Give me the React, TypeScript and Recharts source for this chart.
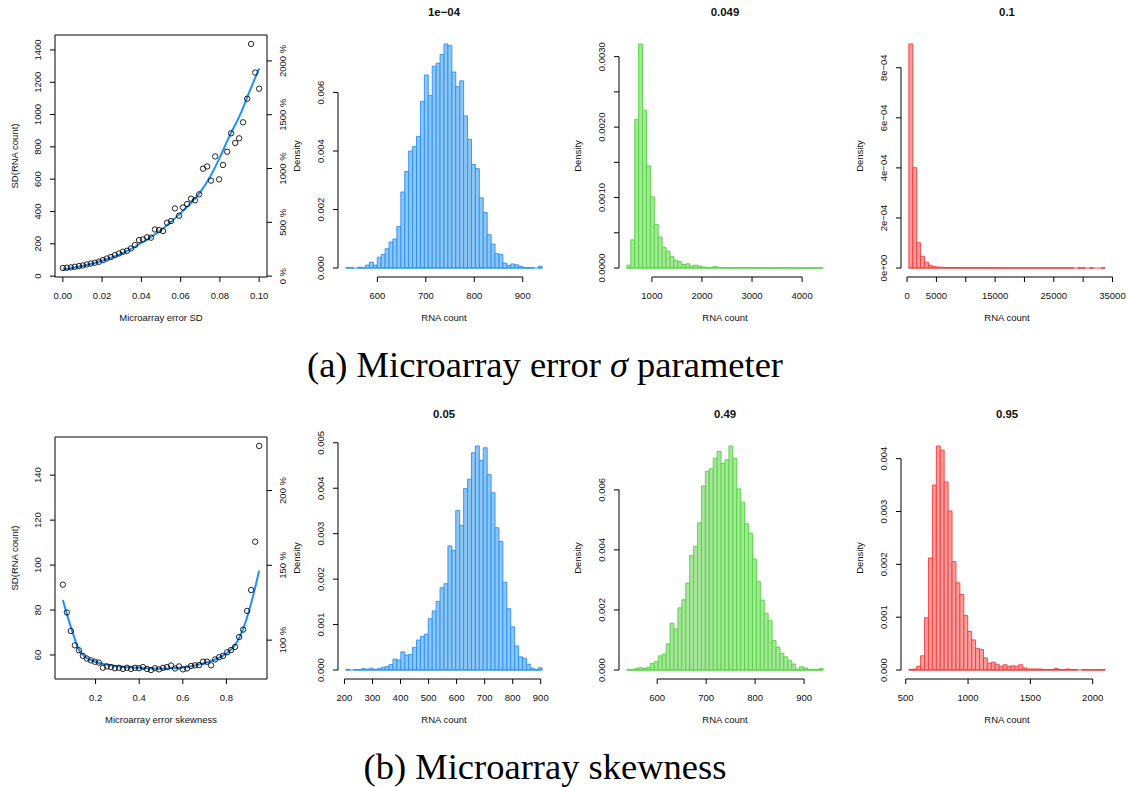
import React from 'react';
import { ComposedChart, XAxis, YAxis, Line, Scatter, ReferenceArea, ReferenceLine } from 'recharts';

const FONT = '"Liberation Sans", Arial, Helvetica, sans-serif';
const SERIF = '"Liberation Serif", "DejaVu Serif", serif';
const INK = '#111';
const FS = 9.5;

// ---------- (a) microarray error SD ----------
const errSd = [0, 0.002, 0.0041, 0.0061, 0.0082, 0.0102, 0.0122, 0.0143, 0.0163, 0.0184,
  0.0204, 0.0224, 0.0245, 0.0265, 0.0286, 0.0306, 0.0327, 0.0347, 0.0367, 0.0388,
  0.0408, 0.0429, 0.0449, 0.0469, 0.049, 0.051, 0.0531, 0.0551, 0.0571, 0.0592,
  0.0612, 0.0633, 0.0653, 0.0673, 0.0694, 0.0714, 0.0735, 0.0755, 0.0776, 0.0796,
  0.0816, 0.0837, 0.0857, 0.0878, 0.0898, 0.0918, 0.0939, 0.0959, 0.098, 0.1];
const errSdSpread = [50, 52, 54, 58, 62, 66, 72, 78, 83, 89,
  99, 109, 118, 130, 140, 151, 157, 171, 192, 223,
  227, 240, 238, 289, 285, 279, 330, 341, 419, 374,
  425, 446, 479, 469, 506, 665, 679, 591, 741, 599,
  688, 770, 884, 824, 853, 952, 1098, 1437, 1260, 1160];
const errSdFitX = [0, 0.01, 0.02, 0.03, 0.04, 0.05, 0.055, 0.06, 0.065, 0.07, 0.075, 0.08, 0.085, 0.09, 0.095, 0.1];
const errSdFitY = [41, 62, 95, 140, 205, 285, 335, 390, 450, 520, 615, 735, 870, 990, 1140, 1286];

// ---------- (b) microarray skewness ----------
const skew = [0.05, 0.0684, 0.0867, 0.1051, 0.1235, 0.1418, 0.1602, 0.1786, 0.1969, 0.2153,
  0.2337, 0.252, 0.2704, 0.2888, 0.3071, 0.3255, 0.3439, 0.3622, 0.3806, 0.399,
  0.4173, 0.4357, 0.4541, 0.4724, 0.4908, 0.5092, 0.5276, 0.5459, 0.5643, 0.5827,
  0.601, 0.6194, 0.6378, 0.6561, 0.6745, 0.6929, 0.7112, 0.7296, 0.748, 0.7663,
  0.7847, 0.8031, 0.8214, 0.8398, 0.8582, 0.8765, 0.8949, 0.9133, 0.9316, 0.95];
const skewSpread = [91.3, 78.9, 70.7, 64.3, 62.1, 59.6, 58.4, 57.6, 57.0, 56.6,
  54.3, 54.9, 54.6, 54.1, 54.3, 53.8, 54.3, 53.8, 54.3, 54.1,
  54.6, 53.8, 53.3, 54.1, 53.6, 54.3, 54.6, 55.3, 54.0, 54.9,
  53.6, 54.0, 55.1, 55.4, 55.5, 57.0, 57.0, 55.4, 58.0, 59.0,
  59.6, 61.2, 62.2, 63.6, 68.0, 71.3, 79.6, 88.9, 110.4, 153];
const skewFitX = [0.05, 0.08, 0.1, 0.12, 0.15, 0.2, 0.3, 0.4, 0.5, 0.6, 0.7, 0.75, 0.8, 0.84, 0.88, 0.92, 0.95];
const skewFitY = [84.4, 74.5, 68.5, 63, 59.3, 57, 55, 54.3, 53.9, 54.4, 56.5, 58, 60.7, 64.5, 72.5, 85.5, 97.5];

// SD at which the right-hand axis reads 100 %
const pctBase = 66.6;

// ---------- histograms ----------
const h1Range = [535, 940];
const h1Density = [0.00002, 0.00001, 0, 0.00003, 0.00001, 0.0001, 0.0002, 0.0001, 0.00037, 0.00046,
  0.00066, 0.00089, 0.00099, 0.00142, 0.0026, 0.0033, 0.004, 0.00415, 0.0045, 0.0057,
  0.0066, 0.0059, 0.0069, 0.007, 0.0073, 0.00766, 0.0076, 0.0067, 0.0062, 0.0064,
  0.0052, 0.0044, 0.00354, 0.0034, 0.0024, 0.0019, 0.00114, 0.00082, 0.00049, 0.00047,
  0.00017, 0.00009, 0.00014, 0.00011, 0.00006, 0.00002, 0.00001, 0.00001, 0, 0.00006];

const h2Range = [500, 4420];
const h2Density = [0.00004, 0.0004, 0.00211, 0.00318, 0.00224, 0.00145, 0.00101, 0.00062, 0.00044, 0.00029,
  0.00024, 0.00016, 0.00011, 0.00009, 0.00005, 0.00006, 0.00003, 0.00004, 0.00003, 0.000015,
  0.00001, 0.00001, 0.00002, 0.00001, 0.000008, 0.000005, 0.000005, 0.000003, 0.000005, 0.000003,
  0.000003, 0.000005, 0.000002, 0.000003, 0.000002, 0.000003, 0.000002, 0.000002, 0.000003, 0.000002,
  0.000004, 0.000002, 0.000001, 0.000002, 0.000002, 0.000001, 0.000002, 0.000001, 0.000002, 0.000002];

const h3Range = [300, 33750];
const h3Density = [0.000895, 0.000401, 0.000101, 0.000047, 0.000023, 0.000011, 0.000006, 0.000004, 0.000003, 0.000002,
  0.000002, 0.0000015, 0.000002, 0.000001, 0.000001, 0.0000015, 0.000001, 0.0000008, 0.000001, 0.0000006,
  0.0000008, 0.0000005, 0.0000006, 0.0000004, 0.0000005, 0.0000003, 0.0000004, 0.0000003, 0.0000002, 0.0000003,
  0.0000002, 0.0000003, 0.0000002, 0.0000001, 0.0000002, 0.0000001, 0.0000002, 0.0000001, 0.0000001, 0.0000002,
  0.0000001, 0.0000001, 0, 0.0000001, 0.0000001, 0, 0.0000001, 0, 0, 0.0000001];

const b2Range = [205, 905];
const b2Density = [0.000015, 0, 0.00001, 0.00001, 0.00003, 0.00002, 0.00004, 0.00001, 0.00003, 0.00006,
  0.00008, 0.00012, 0.00024, 0.00022, 0.0004, 0.00033, 0.00034, 0.0005, 0.00066, 0.00074,
  0.00079, 0.00113, 0.0013, 0.00151, 0.00181, 0.0019, 0.00273, 0.00263, 0.00351, 0.00318,
  0.00399, 0.0042, 0.00478, 0.00493, 0.00461, 0.00489, 0.0043, 0.0039, 0.00313, 0.00283,
  0.00193, 0.00135, 0.00095, 0.00053, 0.00029, 0.00026, 0.00013, 0.00004, 0.00001, 0.00005];

const b3Range = [538, 939];
const b3Density = [0.00002, 0.00001, 0.00005, 0.00008, 0.00005, 0.00009, 0.00022, 0.00028, 0.00047, 0.00053,
  0.00087, 0.00156, 0.00137, 0.00207, 0.00234, 0.0029, 0.00381, 0.00411, 0.0049, 0.00613,
  0.00662, 0.0067, 0.00705, 0.00728, 0.00688, 0.007, 0.00746, 0.00705, 0.00603, 0.00559,
  0.00487, 0.00456, 0.0037, 0.00294, 0.00233, 0.00189, 0.00164, 0.00098, 0.00076, 0.00056,
  0.00044, 0.00031, 0.0002, 0.00003, 0.00011, 0.00007, 0.00002, 0.00003, 0.00001, 0.00005];

const b4Range = [525, 2100];
const b4Density = [0.00001, 0.00002, 0.00007, 0.00027, 0.00099, 0.00212, 0.0035, 0.00424, 0.00416, 0.00356,
  0.00301, 0.00205, 0.00165, 0.00143, 0.00103, 0.00073, 0.00057, 0.00041, 0.00039, 0.00023,
  0.00013, 0.00015, 0.00011, 0.00007, 0.0001, 0.00007, 0.00008, 0.00007, 0.0001, 0.00004,
  0.00002, 0.00002, 0.00002, 0.00002, 0.00001, 0.00001, 0.00001, 0.00003, 0.00001, 0.00001,
  0.00002, 0.00001, 0.00001, 0, 0.00001, 0.00001, 0.00001, 0.000005, 0.00001, 0.00001];

// ---------- tick values & labels ----------
const errSdTicks = [0, 0.02, 0.04, 0.06, 0.08, 0.1];
const errSdLabels = ['0.00', '0.02', '0.04', '0.06', '0.08', '0.10'];
const sdTicksA = [0, 200, 400, 600, 800, 1000, 1200, 1400];
const sdLabelsA = sdTicksA.map(String);
const pctTicksA = [0, 500, 1000, 1500, 2000];
const pctLabelsA = ['0 %', '500 %', '1000 %', '1500 %', '2000 %'];

const skewTicks = [0.2, 0.4, 0.6, 0.8];
const skewLabels = ['0.2', '0.4', '0.6', '0.8'];
const sdTicksB = [60, 80, 100, 120, 140];
const sdLabelsB = sdTicksB.map(String);
const pctTicksB = [100, 150, 200];
const pctLabelsB = ['100 %', '150 %', '200 %'];

const h1XTicks = [600, 700, 800, 900];
const h1YTicks = [0, 0.002, 0.004, 0.006];
const h1YLabels = ['0.000', '0.002', '0.004', '0.006'];
const h2XTicks = [1000, 2000, 3000, 4000];
const h2YTicks = [0, 0.0005, 0.001, 0.0015, 0.002, 0.0025, 0.003];
const h2YLabels = ['0.0000', '', '0.0010', '', '0.0020', '', '0.0030'];
const h3XTicks = [0, 5000, 10000, 15000, 20000, 25000, 30000, 35000];
const h3XLabels = ['0', '5000', '', '15000', '', '25000', '', '35000'];
const h3YTicks = [0, 0.0002, 0.0004, 0.0006, 0.0008];
const h3YLabels = ['0e+00', '2e\u221204', '4e\u221204', '6e\u221204', '8e\u221204'];
const b2XTicks = [200, 300, 400, 500, 600, 700, 800, 900];
const b2YTicks = [0, 0.001, 0.002, 0.003, 0.004, 0.005];
const b2YLabels = ['0.000', '0.001', '0.002', '0.003', '0.004', '0.005'];
const b3XTicks = [600, 700, 800, 900];
const b3YTicks = [0, 0.002, 0.004, 0.006];
const b3YLabels = ['0.000', '0.002', '0.004', '0.006'];
const b4XTicks = [500, 1000, 1500, 2000];
const b4YTicks = [0, 0.001, 0.002, 0.003, 0.004];
const b4YLabels = ['0.000', '0.001', '0.002', '0.003', '0.004'];

const BLUE = { fill: '#8cc6f5', stroke: '#2b8ef0' };
const GREEN = { fill: '#a6e69a', stroke: '#52d43f' };
const RED = { fill: '#f89c9c', stroke: '#f03c3c' };

// plot frame inside every chart
const PL = 50, PT = 35, PB = 50, PW = 212, PH = 242;

const labelFor = (ticks: number[], labels: string[], v: number) => {
  const i = ticks.findIndex((t) => Math.abs(t - v) < 1e-9);
  return i >= 0 ? labels[i] : '';
};

const xTick = (ticks: number[], labels: string[]) => (props: any) => (
  <text x={props.x} y={props.y} dy="0.71em" textAnchor="middle" fontSize={FS} fontFamily={FONT} fill={INK}>
    {labelFor(ticks, labels, props.payload.value)}
  </text>
);

const yTick = (ticks: number[], labels: string[]) => (props: any) => (
  <text x={props.x} y={props.y} dy="0.35em" textAnchor="middle" fontSize={FS} fontFamily={FONT} fill={INK}
    transform={`rotate(-90 ${props.x} ${props.y})`}>
    {labelFor(ticks, labels, props.payload.value)}
  </text>
);

const Titles = ({ w, h, title, xTitle, yTitle, yOff }: any) => (
  <svg width={w} height={h} style={{ position: 'absolute', left: 0, top: 0, pointerEvents: 'none' }}>
    {title && (
      <text x={PL + PW / 2} y={12.5} dy="0.35em" textAnchor="middle" fontSize={11.4} fontWeight="bold" fontFamily={FONT} fill={INK}>
        {title}
      </text>
    )}
    <text x={PL + PW / 2} y={PT + PH + 41} dy="0.35em" textAnchor="middle" fontSize={FS} fontFamily={FONT} fill={INK}>
      {xTitle}
    </text>
    <text x={PL - yOff} y={PT + PH / 2} dy="0.35em" textAnchor="middle" fontSize={FS} fontFamily={FONT} fill={INK}
      transform={`rotate(-90 ${PL - yOff} ${PT + PH / 2})`}>
      {yTitle}
    </text>
  </svg>
);

type HistProps = {
  left: number; top: number; title: string;
  range: number[]; dens: number[];
  xTicks: number[]; xLabels: string[];
  yTicks: number[]; yLabels: string[];
  color: { fill: string; stroke: string };
};

function Hist(p: HistProps) {
  const n = p.dens.length;
  const span = p.range[1] - p.range[0];
  const step = span / n;
  const bins = p.dens.map((d, i) => ({
    x0: p.range[0] + i * step,
    x1: p.range[0] + (i + 1) * step,
    mid: p.range[0] + (i + 0.5) * step,
    d,
  }));
  const xDom: [number, number] = [p.range[0] - 0.04 * span, p.range[1] + 0.04 * span];
  const maxD = Math.max(...p.dens);
  const yDom: [number, number] = [-0.04 * maxD, 1.04 * maxD];
  const RM = 15;
  const W = PL + PW + RM, H = PT + PH + PB;
  const lastX = p.xTicks[p.xTicks.length - 1];
  const lastY = p.yTicks[p.yTicks.length - 1];
  return (
    <div style={{ position: 'absolute', left: p.left - PL, top: p.top - PT, width: W, height: H }}>
      <ComposedChart width={W} height={H} data={bins} margin={{ top: PT, right: RM, bottom: 0, left: 0 }}>
        <XAxis type="number" dataKey="mid" domain={xDom} allowDataOverflow ticks={p.xTicks} interval={0}
          axisLine={false} stroke="#000" tickSize={5} tickMargin={10} height={PB} tick={xTick(p.xTicks, p.xLabels)} />
        <YAxis type="number" dataKey="d" domain={yDom} allowDataOverflow ticks={p.yTicks} interval={0}
          axisLine={false} stroke="#000" tickSize={5} tickMargin={12} width={PL} tick={yTick(p.yTicks, p.yLabels)} />
        <Line dataKey="d" stroke="none" dot={false} activeDot={false} isAnimationActive={false} />
        {bins.map((b, i) => (
          <ReferenceArea key={i} x1={b.x0} x2={b.x1} y1={0} y2={b.d} fill={p.color.fill} fillOpacity={1}
            stroke={p.color.stroke} strokeWidth={0.9} ifOverflow="visible" />
        ))}
        {/* bottom edges of the bins, also where a bin is empty */}
        <ReferenceLine segment={[{ x: p.range[0], y: 0 }, { x: p.range[1], y: 0 }]} stroke={p.color.stroke}
          strokeWidth={0.9} ifOverflow="visible" />
        <ReferenceLine segment={[{ x: p.xTicks[0], y: yDom[0] }, { x: lastX, y: yDom[0] }]} stroke="#000" ifOverflow="visible" />
        <ReferenceLine segment={[{ x: xDom[0], y: p.yTicks[0] }, { x: xDom[0], y: lastY }]} stroke="#000" ifOverflow="visible" />
      </ComposedChart>
      <Titles w={W} h={H} title={p.title} xTitle="RNA count" yTitle="Density" yOff={41} />
    </div>
  );
}

type SpreadProps = {
  left: number; top: number;
  xs: number[]; ys: number[]; fitX: number[]; fitY: number[];
  xTicks: number[]; xLabels: string[];
  yTicks: number[]; yLabels: string[];
  pctTicks: number[]; pctLabels: string[];
  xTitle: string;
};

function Spread(p: SpreadProps) {
  const xMin = Math.min(...p.xs), xMax = Math.max(...p.xs);
  const yMin = Math.min(...p.ys), yMax = Math.max(...p.ys);
  const xDom: [number, number] = [xMin - 0.04 * (xMax - xMin), xMax + 0.04 * (xMax - xMin)];
  const yDom: [number, number] = [yMin - 0.04 * (yMax - yMin), yMax + 0.04 * (yMax - yMin)];
  const pctDom: [number, number] = [yDom[0] / pctBase * 100, yDom[1] / pctBase * 100];
  const pts = p.xs.map((x, i) => ({ x, y: p.ys[i] }));
  const fit = p.fitX.map((x, i) => ({ x, y: p.fitY[i] }));
  const RW = 30, RM = 8;
  const W = PL + PW + RW + RM, H = PT + PH + PB;
  return (
    <div style={{ position: 'absolute', left: p.left - PL, top: p.top - PT, width: W, height: H }}>
      <ComposedChart width={W} height={H} margin={{ top: PT, right: RM, bottom: 0, left: 0 }}>
        <XAxis type="number" dataKey="x" domain={xDom} allowDataOverflow ticks={p.xTicks} interval={0}
          axisLine={false} stroke="#000" tickSize={5} tickMargin={10} height={PB} tick={xTick(p.xTicks, p.xLabels)} />
        <YAxis yAxisId="l" type="number" dataKey="y" domain={yDom} allowDataOverflow ticks={p.yTicks} interval={0}
          axisLine={false} stroke="#000" tickSize={5} tickMargin={12} width={PL} tick={yTick(p.yTicks, p.yLabels)} />
        <YAxis yAxisId="r" orientation="right" type="number" domain={pctDom} allowDataOverflow ticks={p.pctTicks} interval={0}
          axisLine={false} stroke="#000" tickSize={5} tickMargin={11} width={RW} tick={yTick(p.pctTicks, p.pctLabels)} />
        <ReferenceArea yAxisId="l" x1={xDom[0]} x2={xDom[1]} y1={yDom[0]} y2={yDom[1]} fill="none" fillOpacity={0}
          stroke="#000" strokeWidth={1} ifOverflow="visible" />
        <Scatter yAxisId="l" data={pts} isAnimationActive={false}
          shape={(s: any) => <circle cx={s.cx} cy={s.cy} r={2.7} fill="none" stroke="#000" strokeWidth={0.85} />} />
        <Line yAxisId="l" data={fit} dataKey="y" type="monotone" stroke="#1e90ff" strokeWidth={2}
          dot={false} activeDot={false} isAnimationActive={false} />
      </ComposedChart>
      <Titles w={W} h={H} title="" xTitle={p.xTitle} yTitle="SD(RNA count)" yOff={40} />
    </div>
  );
}

export default function App() {
  const topRow = 35, bottomRow = 437;
  const cols = [55, 337.5, 619, 901];
  return (
    <div style={{ position: 'absolute', left: 0, top: 0, width: 1128, height: 787, background: '#fff', overflow: 'hidden' }}>
      <Spread left={cols[0]} top={topRow} xs={errSd} ys={errSdSpread} fitX={errSdFitX} fitY={errSdFitY}
        xTicks={errSdTicks} xLabels={errSdLabels} yTicks={sdTicksA} yLabels={sdLabelsA}
        pctTicks={pctTicksA} pctLabels={pctLabelsA} xTitle="Microarray error SD" />
      <Hist left={cols[1]} top={topRow} title={'1e\u221204'} range={h1Range} dens={h1Density}
        xTicks={h1XTicks} xLabels={h1XTicks.map(String)} yTicks={h1YTicks} yLabels={h1YLabels} color={BLUE} />
      <Hist left={cols[2]} top={topRow} title="0.049" range={h2Range} dens={h2Density}
        xTicks={h2XTicks} xLabels={h2XTicks.map(String)} yTicks={h2YTicks} yLabels={h2YLabels} color={GREEN} />
      <Hist left={cols[3]} top={topRow} title="0.1" range={h3Range} dens={h3Density}
        xTicks={h3XTicks} xLabels={h3XLabels} yTicks={h3YTicks} yLabels={h3YLabels} color={RED} />

      <Spread left={cols[0]} top={bottomRow} xs={skew} ys={skewSpread} fitX={skewFitX} fitY={skewFitY}
        xTicks={skewTicks} xLabels={skewLabels} yTicks={sdTicksB} yLabels={sdLabelsB}
        pctTicks={pctTicksB} pctLabels={pctLabelsB} xTitle="Microarray error skewness" />
      <Hist left={cols[1]} top={bottomRow} title="0.05" range={b2Range} dens={b2Density}
        xTicks={b2XTicks} xLabels={b2XTicks.map(String)} yTicks={b2YTicks} yLabels={b2YLabels} color={BLUE} />
      <Hist left={cols[2]} top={bottomRow} title="0.49" range={b3Range} dens={b3Density}
        xTicks={b3XTicks} xLabels={b3XTicks.map(String)} yTicks={b3YTicks} yLabels={b3YLabels} color={GREEN} />
      <Hist left={cols[3]} top={bottomRow} title="0.95" range={b4Range} dens={b4Density}
        xTicks={b4XTicks} xLabels={b4XTicks.map(String)} yTicks={b4YTicks} yLabels={b4YLabels} color={RED} />

      <svg width={1128} height={787} style={{ position: 'absolute', left: 0, top: 0, pointerEvents: 'none' }}>
        <text x={545} y={377} textAnchor="middle" fontSize={36.5} fontFamily={SERIF} fill="#000">
          (a) Microarray error <tspan fontStyle="italic">σ</tspan> parameter
        </text>
        <text x={545} y={779} textAnchor="middle" fontSize={36.5} fontFamily={SERIF} fill="#000">
          (b) Microarray skewness
        </text>
      </svg>
    </div>
  );
}
